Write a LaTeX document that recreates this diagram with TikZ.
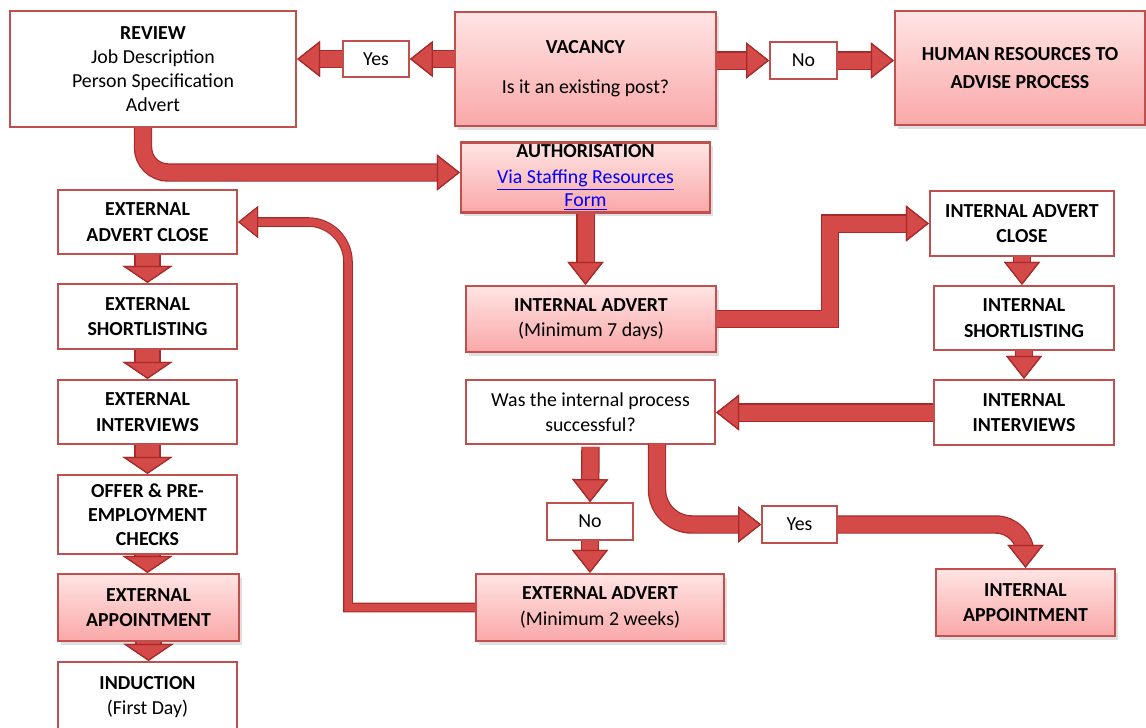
\documentclass[tikz,border=0pt]{standalone}
\usepackage{fontspec}
\setmainfont{Carlito}
\usetikzlibrary{arrows.meta,shadows}
\definecolor{boxred}{RGB}{192,80,77}
\definecolor{arrowred}{RGB}{212,74,72}
\definecolor{arrowdark}{RGB}{168,42,40}
\definecolor{pinktop}{RGB}{255,228,228}
\definecolor{pinkbottom}{RGB}{250,168,168}
\definecolor{linkblue}{RGB}{0,0,255}
\begin{document}
\begin{tikzpicture}
[x=0.02cm,y=-0.02cm,
 font=\fontsize{11.3}{13.6}\selectfont,
 boxdecorate/.style={draw=boxred,line width=1.3pt,fill=white,align=center,inner sep=1pt},
 pinkdecorate/.style={boxdecorate,top color=pinktop,bottom color=pinkbottom,
   drop shadow={opacity=0.25,shadow xshift=1.5pt,shadow yshift=-2pt}},
 labeldecorate/.style={boxdecorate,line width=1pt},
 arrowdecorate/.style={draw=arrowred,line width=0.32cm,
   preaction={draw=arrowdark,line width=0.32cm+1.4pt},
   -{Triangle[width=0.72cm,length=0.46cm,line width=0.7pt,fill=arrowred,color=arrowdark]}},
 stubdecorate/.style={draw=arrowred,line width=0.48cm,
   preaction={draw=arrowdark,line width=0.48cm+1.4pt},
   -{Triangle[width=1.0cm,length=0.34cm,line width=0.7pt,fill=arrowred,color=arrowdark]}},
 thindecorate/.style={draw=arrowred,line width=0.15cm,
   preaction={draw=arrowdark,line width=0.15cm+1.2pt},
   -{Triangle[width=0.64cm,length=0.4cm,line width=0.6pt,fill=arrowred,color=arrowdark]}}]
\useasboundingbox (0,0) rectangle (1146,727);
\clip (0,0) rectangle (1146,727);
% top row
\node (review) at (153,69) [boxdecorate,minimum width=5.72cm,minimum height=2.32cm]
  {\textbf{REVIEW}\\Job Description\\Person Specification\\Advert};
\node (yesa) at (376,59) [labeldecorate,minimum width=1.32cm,minimum height=0.72cm] {Yes};
\node (vacancy) at (585.5,69) [pinkdecorate,minimum width=5.22cm,minimum height=2.28cm]
  {\textbf{VACANCY}\\[9pt]Is it an existing post?};
\node (noa) at (803.5,60.5) [labeldecorate,minimum width=1.34cm,minimum height=0.74cm] {No};
\node (hr) at (1020,68) [pinkdecorate,minimum width=5.0cm,minimum height=2.28cm]
  {\textbf{HUMAN RESOURCES TO}\\[2pt]\textbf{ADVISE PROCESS}};
\node (auth) at (585.5,177.5) [pinkdecorate,minimum width=4.98cm,minimum height=1.3cm]
  {\textbf{AUTHORISATION}\\[1pt]\textcolor{linkblue}{\underline{Via Staffing Resources}}\\
   \textcolor{linkblue}{\underline{Form}}};
% external column
\node (extclose) at (147.5,222) [boxdecorate,minimum width=3.58cm,minimum height=1.28cm]
  {\textbf{EXTERNAL}\\[1pt]\textbf{ADVERT CLOSE}};
\node (extshort) at (147.5,316.5) [boxdecorate,minimum width=3.58cm,minimum height=1.3cm]
  {\textbf{EXTERNAL}\\[1pt]\textbf{SHORTLISTING}};
\node (extint) at (147.5,412) [boxdecorate,minimum width=3.58cm,minimum height=1.28cm]
  {\textbf{EXTERNAL}\\[1pt]\textbf{INTERVIEWS}};
\node (offer) at (147.5,514.5) [boxdecorate,minimum width=3.58cm,minimum height=1.58cm]
  {\textbf{OFFER \& PRE-}\\\textbf{EMPLOYMENT}\\\textbf{CHECKS}};
\node (extappt) at (148.5,607.5) [pinkdecorate,minimum width=3.62cm,minimum height=1.34cm]
  {\textbf{EXTERNAL}\\[1pt]\textbf{APPOINTMENT}};
\node (induction) at (147.5,703) [boxdecorate,minimum width=3.58cm,minimum height=1.64cm]
  {\textbf{INDUCTION}\\[1pt](First Day)\\[-5pt]};
% middle column
\node (intadvert) at (591,319) [pinkdecorate,minimum width=5.0cm,minimum height=1.32cm]
  {\textbf{INTERNAL ADVERT}\\[1pt](Minimum 7 days)};
\node (question) at (590.5,412) [boxdecorate,minimum width=4.98cm,minimum height=1.28cm]
  {Was the internal process\\[1pt]successful?};
\node (nob) at (590,521.5) [labeldecorate,minimum width=1.72cm,minimum height=0.74cm] {No};
\node (yesb) at (799.5,524.5) [labeldecorate,minimum width=1.5cm,minimum height=0.74cm] {Yes};
\node (extadvert) at (600,607.5) [pinkdecorate,minimum width=4.96cm,minimum height=1.34cm]
  {\textbf{EXTERNAL ADVERT}\\[1pt](Minimum 2 weeks)};
% internal column
\node (intclose) at (1022,223.5) [boxdecorate,minimum width=3.68cm,minimum height=1.3cm]
  {\textbf{INTERNAL ADVERT}\\[1pt]\textbf{CLOSE}};
\node (intshort) at (1024,318) [boxdecorate,minimum width=3.6cm,minimum height=1.28cm]
  {\textbf{INTERNAL}\\[1pt]\textbf{SHORTLISTING}};
\node (intint) at (1024,412.5) [boxdecorate,minimum width=3.6cm,minimum height=1.3cm]
  {\textbf{INTERNAL}\\[1pt]\textbf{INTERVIEWS}};
\node (intappt) at (1025.5,602.5) [pinkdecorate,minimum width=3.58cm,minimum height=1.34cm]
  {\textbf{INTERNAL}\\[1pt]\textbf{APPOINTMENT}};
\coordinate (knee) at (830,0);
\coordinate (loop) at (348,0);
\coordinate (yesdrop) at (657,444);
% connectors
\draw[arrowdecorate] (vacancy.west |- yesa.east) -- (yesa.east);
\draw[arrowdecorate] (yesa.west) -- (review.east |- yesa.west);
\draw[arrowdecorate] (vacancy.east |- noa.west) -- (noa.west);
\draw[arrowdecorate] (noa.east) -- (hr.west |- noa.east);
\draw[arrowdecorate,rounded corners=0.5cm] ([xshift=-0.2cm]review.south)
  |- ([yshift=0.1cm]auth.west);
\draw[arrowdecorate] (auth.south) -- (auth.south |- intadvert.north);
\draw[arrowdecorate] (intadvert.east) -| (knee |- intclose.west) -- (intclose.west);
\draw[arrowdecorate] (intclose.south) -- (intclose.south |- intshort.north);
\draw[arrowdecorate] (intshort.south) -- (intint.north);
\draw[arrowdecorate] (intint.west) -- (question.east |- intint.west);
\draw[arrowdecorate] ([yshift=-1pt]question.south) -- (nob.north);
\draw[arrowdecorate] (nob.south) -- (nob.south |- extadvert.north);
\draw[arrowdecorate,rounded corners=0.7cm] (yesdrop) |- (yesb.west);
\draw[arrowdecorate,rounded corners=0.6cm] (yesb.east) -| (intappt.north);
\draw[thindecorate] (extadvert.west) -- (extadvert.west -| loop)
  [rounded corners=0.8cm] -- (loop |- extclose.east) -- (extclose.east);
\draw[stubdecorate] (extclose.south) -- (extshort.north);
\draw[stubdecorate] (extshort.south) -- (extint.north);
\draw[stubdecorate] (extint.south) -- (offer.north);
\draw[stubdecorate] (offer.south) -- (offer.south |- extappt.north);
\draw[stubdecorate] (extappt.south) -- (extappt.south |- induction.north);
\end{tikzpicture}
\end{document}
